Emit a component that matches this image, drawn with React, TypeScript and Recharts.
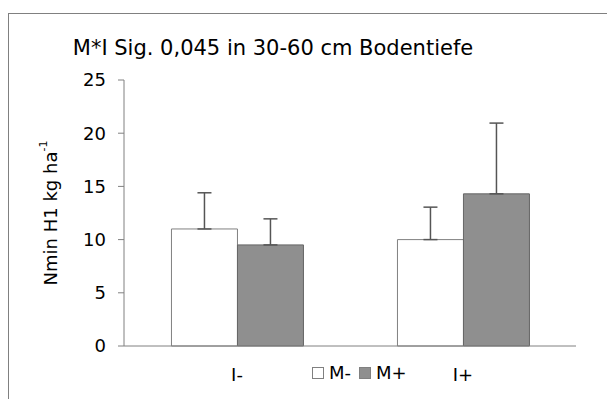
import React from "react";
import { BarChart, Bar, XAxis, YAxis, ErrorBar, Legend } from "recharts";

const categories = ["I-", "I+"];
const mMinus = [11.0, 10.0];
const mPlus = [9.5, 14.3];
const mMinusErr = [3.4, 3.05];
const mPlusErr = [2.45, 6.65];
const yTicks = [0, 5, 10, 15, 20, 25];
const boundaryTicks = [0, 1, 2];
const seriesNames = ["M-", "M+"];
const title = "M*I Sig. 0,045 in 30-60 cm Bodentiefe";

const data = categories.map((c, i) => ({
  name: c,
  m0: mMinus[i],
  m1: mPlus[i],
  e0: [0, mMinusErr[i]],
  e1: [0, mPlusErr[i]],
}));

const FONT = "'DejaVu Sans', Verdana, sans-serif";

const YLabel = (props: any) => {
  const vb = props.viewBox || {};
  const x = (vb.x || 0) + 50;
  const y = (vb.y || 0) + (vb.height || 0) / 2;
  return (
    <text
      x={x}
      y={y}
      transform={`rotate(-90, ${x}, ${y})`}
      textAnchor="middle"
      dominantBaseline="central"
      fontFamily={FONT}
      fontSize={18}
      fill="#000"
    >
      Nmin H1 kg ha
      <tspan fontSize={11} dy={-7}>-1</tspan>
    </text>
  );
};

const LegendContent = (props: any) => {
  const payload = [...(props.payload || [])].sort((a: any, b: any) =>
    String(a.dataKey).localeCompare(String(b.dataKey))
  );
  return (
    <div style={{ display: "flex", alignItems: "center", fontFamily: FONT, fontSize: 18, color: "#000" }}>
      {payload.map((p: any, i: number) => (
        <div key={i} style={{ display: "flex", alignItems: "center", marginRight: i === 0 ? 8 : 0 }}>
          <span
            style={{
              display: "inline-block",
              width: 10,
              height: 10,
              background: p.payload?.fill || p.color,
              border: "1px solid #808080",
              marginRight: 5,
            }}
          />
          <span>{p.value}</span>
        </div>
      ))}
    </div>
  );
};

export default function App() {
  return (
    <div>
      <div
        style={{
          position: "absolute",
          left: 8,
          top: 13,
          width: 599,
          height: 386,
          borderTop: "1px solid #808080",
          borderLeft: "1px solid #808080",
          boxSizing: "border-box",
        }}
      />
      <div
        style={{
          position: "absolute",
          left: 0,
          top: 36,
          width: 546,
          textAlign: "center",
          fontFamily: FONT,
          fontSize: 21,
          lineHeight: "24px",
          color: "#000",
          whiteSpace: "nowrap",
        }}
      >
        {title}
      </div>
      <div style={{ position: "absolute", left: 0, top: 0 }}>
        <BarChart
          width={607}
          height={399}
          data={data}
          margin={{ top: 80, right: 31, bottom: 13, left: 0 }}
          barCategoryGap="21%"
          barGap={0}
        >
          <XAxis
            xAxisId="a"
            type="number"
            domain={[0, 2]}
            ticks={boundaryTicks}
            tickFormatter={() => ""}
            axisLine={false}
            tickLine={{ stroke: "#808080" }}
            tickSize={6}
            height={0}
            allowDataOverflow
          />
          <XAxis
            xAxisId="b"
            dataKey="name"
            type="category"
            height={40}
            tickSize={0}
            tickMargin={22}
            tickLine={false}
            axisLine={{ stroke: "#808080" }}
            tick={{ fill: "#000", fontSize: 18, fontFamily: FONT }}
          />
          <YAxis
            width={124}
            domain={[0, 25]}
            ticks={yTicks}
            tickSize={6}
            tickMargin={12}
            axisLine={{ stroke: "#808080" }}
            tickLine={{ stroke: "#808080" }}
            tick={{ fill: "#000", fontSize: 18, fontFamily: FONT }}
            label={<YLabel />}
          />
          <Legend
            layout="horizontal"
            verticalAlign="middle"
            align="center"
            content={<LegendContent />}
            wrapperStyle={{ position: "absolute", left: 312, top: 362, width: "auto" }}
          />
          <Bar
            xAxisId="b"
            dataKey="m0"
            name={seriesNames[0]}
            fill="#ffffff"
            stroke="#808080"
            strokeWidth={1}
            isAnimationActive={false}
          >
            <ErrorBar dataKey="e0" direction="y" width={7} stroke="#555" strokeWidth={1.5} />
          </Bar>
          <Bar
            xAxisId="b"
            dataKey="m1"
            name={seriesNames[1]}
            fill="#8f8f8f"
            stroke="#666666"
            strokeWidth={1}
            isAnimationActive={false}
          >
            <ErrorBar dataKey="e1" direction="y" width={7} stroke="#555" strokeWidth={1.5} />
          </Bar>
        </BarChart>
      </div>
    </div>
  );
}
